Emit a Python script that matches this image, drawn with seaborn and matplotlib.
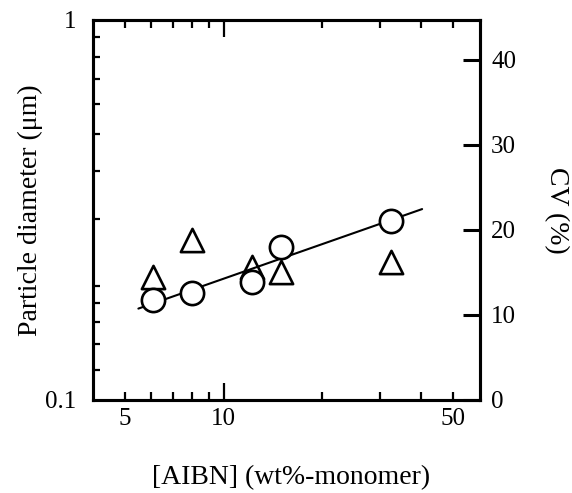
import numpy as np
import matplotlib
matplotlib.use("Agg")
import matplotlib.pyplot as plt
import matplotlib.ticker as mticker
import seaborn as sns

# data
aibn = [6.1, 8.0, 12.2, 15.0, 32.4]          # wt%-monomer
diameter = [0.183, 0.191, 0.204, 0.253, 0.296]  # um
cv = [14.5, 18.8, 15.6, 15.1, 16.2]            # %

# fitted power-law line (end points)
fit_x = [5.5, 40.3]
fit_y = [0.174, 0.318]

x_minor = [5, 6, 7, 8, 9, 20, 30, 40, 50]
x_minor_labels = {5: "5", 50: "50"}
y_minor = [0.12, 0.14, 0.16, 0.18, 0.2, 0.3, 0.4, 0.5, 0.6, 0.7, 0.8, 0.9]
cv_ticks = [0, 10, 20, 30, 40]

sns.set_style("ticks")
plt.rcParams['font.family'] = ['Liberation Serif', 'DejaVu Serif']
plt.rcParams['text.color'] = 'black'
plt.rcParams['axes.labelcolor'] = 'black'
plt.rcParams['xtick.color'] = 'black'
plt.rcParams['ytick.color'] = 'black'

fig = plt.figure(figsize=(5.72, 4.93), dpi=100)
ax = fig.add_axes([93/572, 1 - 400/493, 387/572, 380/493])
ax2 = ax.twinx()

# circles and fit line on the left (log) axis, drawn above the CV axis
ax.set_zorder(ax2.get_zorder() + 1)
ax.patch.set_visible(False)

ax.set_xscale('log')
ax.set_yscale('log')

sns.lineplot(x=fit_x, y=fit_y, ax=ax, color='black', linewidth=1.5, zorder=2)
sns.scatterplot(x=aibn, y=diameter, ax=ax, marker='o', s=280, color='white',
                edgecolor='black', linewidth=1.9, zorder=3)
sns.scatterplot(x=aibn, y=cv, ax=ax2, marker='^', s=280, color='white',
                edgecolor='black', linewidth=1.9, zorder=3)

ax.set_xlim(4, 60.5)
ax.set_ylim(0.1, 1)
ax2.set_ylim(0, 44.7)

# x ticks: only 10 is a long tick; 5 and 50 carry labels as short ticks
ax.xaxis.set_major_locator(mticker.FixedLocator([10]))
ax.xaxis.set_major_formatter(mticker.FixedFormatter(["10"]))
ax.xaxis.set_minor_locator(mticker.FixedLocator(x_minor))
ax.xaxis.set_minor_formatter(mticker.FuncFormatter(lambda v, p: x_minor_labels.get(int(round(v)), "")))

ax.yaxis.set_major_locator(mticker.FixedLocator([0.1, 1]))
ax.yaxis.set_major_formatter(mticker.FixedFormatter(["0.1", "1"]))
ax.yaxis.set_minor_locator(mticker.FixedLocator(y_minor))
ax.yaxis.set_minor_formatter(mticker.NullFormatter())

ax2.set_yticks(cv_ticks)
ax2.set_yticklabels([str(t) for t in cv_ticks])
ax2.yaxis.set_minor_locator(mticker.NullLocator())

ax.tick_params(axis='x', which='both', direction='in', top=True, bottom=True,
               labelsize=18, pad=6, width=1.6, color='black')
ax.tick_params(axis='x', which='major', length=12)
ax.tick_params(axis='x', which='minor', length=6)
ax.tick_params(axis='y', which='both', direction='in', left=True, right=False,
               labelsize=18, pad=12, width=1.6)
ax.tick_params(axis='y', which='major', length=0)
ax.tick_params(axis='y', which='minor', length=5)
ax2.tick_params(axis='y', which='both', direction='in', length=12, width=2.2,
                labelsize=18, pad=8)

for a in (ax, ax2):
    for s in a.spines.values():
        s.set_linewidth(2.2)
        s.set_color('black')

ax.set_xlabel("[AIBN] (wt%-monomer)", fontsize=20)
ax.set_ylabel("Particle diameter (μm)", fontsize=20)
ax2.set_ylabel("CV (%)", fontsize=20, rotation=270, va='bottom')
ax.xaxis.set_label_coords(0.512, -0.17)
ax.yaxis.set_label_coords(-0.13, 0.5)
ax2.yaxis.set_label_coords(1.165, 0.5)

fig.savefig("out.png", dpi=100)
